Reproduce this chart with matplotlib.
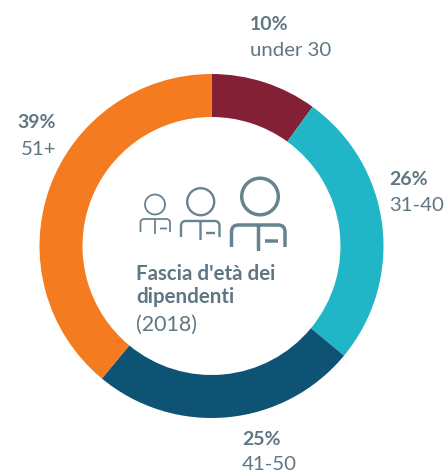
import matplotlib
matplotlib.use("Agg")
import matplotlib.pyplot as plt
from matplotlib.patches import Circle, PathPatch
from matplotlib.path import Path

H = 473
shares = [10, 26, 25, 39]
colors = ["#832035", "#20B5C7", "#0E5373", "#F47B20"]
pcts = ["10%", "26%", "25%", "39%"]
ages = ["under 30", "31-40", "41-50", "51+"]
title_lines = ["Fascia d'età dei", "dipendenti"]
year = "(2018)"

plt.rcParams['font.family'] = ['Lato', 'DejaVu Sans']
text_col = "#5F7683"
icon_col = "#688390"

fig = plt.figure(figsize=(4.45, 4.73), dpi=100)
ax = fig.add_axes([0, 0, 1, 1])
ax.set_xlim(0, 445)
ax.set_ylim(0, H)
ax.axis("off")

ax.pie(shares, colors=colors, startangle=90, counterclock=False,
       center=(211.5, H - 246), radius=172, frame=False,
       wedgeprops=dict(width=43, linewidth=0))
ax.set_xlim(0, 445)
ax.set_ylim(0, H)
ax.set_aspect("auto")


def person(hx, hy, hr, x0, x1, top, bottom, vx, vbottom, d0, d1, dy, lw):
    # head, shoulders, centre line and the small dash (pixel coords)
    ax.add_patch(Circle((hx, H - hy), hr, fill=False, ec=icon_col, lw=lw))
    r = (x1 - x0) * 0.13
    verts = [(x0, bottom), (x0, top + r), (x0, top), (x0 + r, top),
             (x1 - r, top), (x1, top), (x1, top + r), (x1, bottom),
             (vx, top), (vx, vbottom), (d0, dy), (d1, dy)]
    codes = [Path.MOVETO, Path.LINETO, Path.CURVE3, Path.CURVE3,
             Path.LINETO, Path.CURVE3, Path.CURVE3, Path.LINETO,
             Path.MOVETO, Path.LINETO, Path.MOVETO, Path.LINETO]
    verts = [(x, H - y) for x, y in verts]
    ax.add_patch(PathPatch(Path(verts, codes), fill=False, ec=icon_col,
                           lw=lw, capstyle="butt"))


person(155, 204.5, 10, 140.5, 170, 219, 232, 155, 234, 160, 167, 228.5, 1.3)
person(200.7, 201.7, 13.5, 181, 219.5, 221, 237, 200.5, 240, 206, 215, 233, 1.7)
person(260, 196.5, 18.3, 231.5, 285, 225, 247, 258.5, 251, 265, 278, 241, 2.5)

# outer labels: x, y of percent baseline, y of age baseline
lab_x = [250, 389, 242, 17]
pct_y = [30, 185, 445, 128]
age_x = [250, 389, 242, 21]
age_y = [56, 211, 470, 155]
for i in range(4):
    ax.text(lab_x[i], H - pct_y[i], pcts[i], color=text_col, fontsize=14,
            fontweight="bold", va="baseline", ha="left")
    ax.text(age_x[i], H - age_y[i], ages[i], color=text_col, fontsize=14.7,
            va="baseline", ha="left")

ax.text(136, H - 280, title_lines[0], color=text_col, fontsize=14.8,
        fontweight="bold", va="baseline")
ax.text(136, H - 303, title_lines[1], color=text_col, fontsize=14.8,
        fontweight="bold", va="baseline")
ax.text(136, H - 331, year, color=text_col, fontsize=15.5, va="baseline")

fig.savefig("out.png", dpi=100)
